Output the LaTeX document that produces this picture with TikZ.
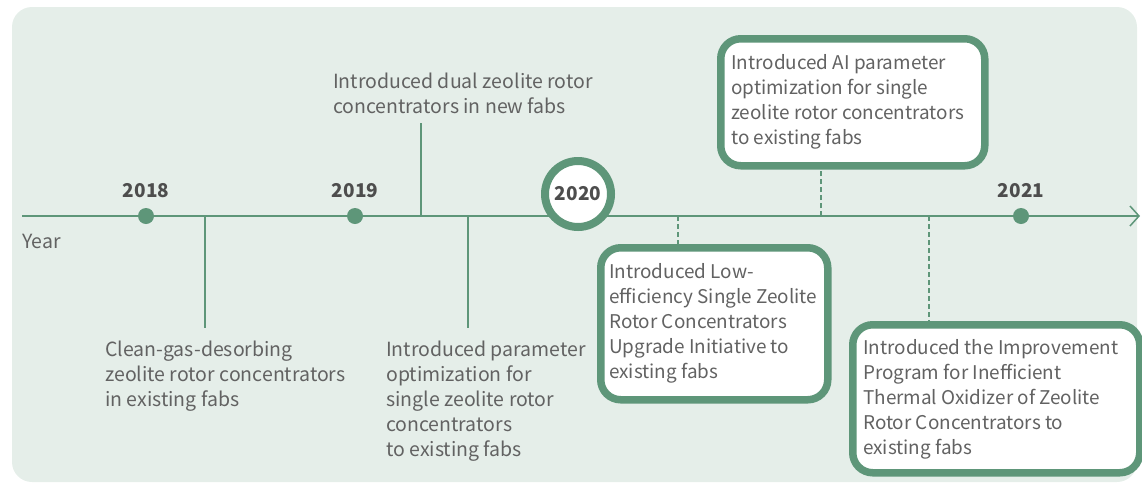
\documentclass[tikz,border=0pt]{standalone}
\usepackage{fontspec}
\setmainfont{Noto Sans CJK SC}
\usetikzlibrary{arrows.meta}
\definecolor{bg}{HTML}{E5EEE9}
\definecolor{gr}{HTML}{5E9679}
\definecolor{tx}{HTML}{626262}
\definecolor{yr}{HTML}{4D4D4D}
\begin{document}
\begin{tikzpicture}[x=1pt,y=-1pt,
 desc/.style={anchor=base west, align=left, inner sep=0pt, text=tx, font=\fontsize{19.5}{25}\selectfont},
 bdesc/.style={desc, font=\fontsize{18.9}{25}\selectfont},
 yearlab/.style={text=yr, font=\fontsize{19}{20}\selectfont\bfseries, inner sep=0pt},
 dotm/.style={circle, fill=gr, minimum size=16pt, inner sep=0pt},
 stem/.style={draw=gr, line width=1.5pt},
 dstem/.style={draw=gr, line width=1.5pt, dash pattern=on 5pt off 3pt},
 hbox/.style={draw=gr, line width=7.5pt, fill=white, rounded corners=20pt, anchor=north west, inner sep=0pt}]
\useasboundingbox (0,0) rectangle (1142,483);
\fill[bg, rounded corners=20pt] (12,7) rectangle (1137,482);
% timeline
\coordinate (t0) at (22,216);
\coordinate (t1) at (1140,216);
\draw[gr, line width=1.5pt, -{Straight Barb[length=9pt,width=20pt,line width=1.5pt]}] (t0) -- (t1);
\node[desc] (year) at (22,248) {Year};
% stems
\coordinate (s1) at (205,216); \coordinate (e1) at (205,328);
\coordinate (s2) at (468,216); \coordinate (e2) at (468,328);
\coordinate (s3) at (421,216); \coordinate (e3) at (421,123);
\draw[stem] (s1) -- (e1);
\draw[stem] (s2) -- (e2);
\draw[stem] (s3) -- (e3);
% boxes
\node[hbox, minimum width=227pt, minimum height=152pt] (b20) at (597,244) {};
\node[hbox, minimum width=264pt, minimum height=127pt] (bai) at (717,35) {};
\node[hbox, minimum width=287pt, minimum height=148pt] (b21) at (849,321) {};
\coordinate (d1) at (678,216);
\coordinate (d2) at (821,216);
\coordinate (d3) at (929,216);
\draw[dstem] (d1) -- (d1 |- b20.north);
\draw[dstem] (d2) -- (d2 |- bai.south);
\draw[dstem] (d3) -- (d3 |- b21.north);
% dots
\node[dotm] (p18) at (146,216) {};
\node[dotm] (p19) at (355,216) {};
\node[dotm] (p21) at (1021,216) {};
\node[yearlab] (y18) at (146,191) {2018};
\node[yearlab] (y19) at (355,191) {2019};
\node[yearlab] (y21) at (1021,191) {2021};
\node[circle, draw=gr, line width=8pt, fill=white, minimum size=66pt, inner sep=0pt, text=yr, font=\fontsize{19}{20}\selectfont\bfseries] (y20) at (578,194) {2020};
% texts (anchor = baseline of last line)
\node[desc] (t1a) at (105,406) {Clean-gas-desorbing\\zeolite rotor concentrators\\in existing fabs};
\node[desc] (t2a) at (386,456) {Introduced parameter\\optimization for\\single zeolite rotor\\concentrators\\to existing fabs};
\node[desc] (t3a) at (333,113) {Introduced dual zeolite rotor\\concentrators in new fabs};
\node[bdesc] (t4a) at (609,378) {Introduced Low-\\efficiency Single Zeolite\\Rotor Concentrators\\Upgrade Initiative to\\existing fabs};
\node[bdesc] (t5a) at (731,144) {Introduced AI parameter\\optimization for single\\zeolite rotor concentrators\\to existing fabs};
\node[bdesc] (t6a) at (863,454) {Introduced the Improvement\\Program for Inefficient\\Thermal Oxidizer of Zeolite\\Rotor Concentrators to\\existing fabs};
\end{tikzpicture}
\end{document}
